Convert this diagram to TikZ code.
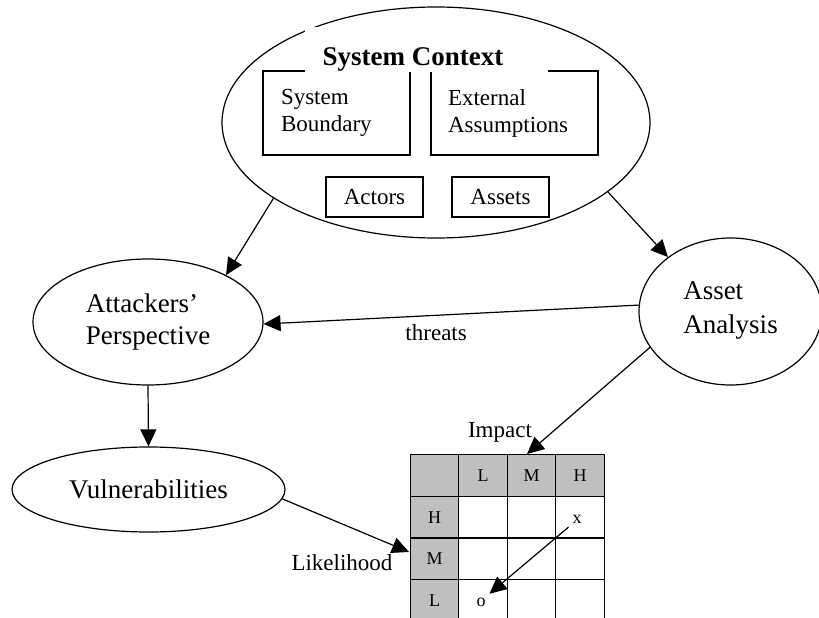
\documentclass[tikz,border=0pt]{standalone}
\usepackage{fontspec}
\setmainfont{Liberation Serif}
\usetikzlibrary{arrows.meta,shapes.geometric}

\begin{document}
\begin{tikzpicture}[x=1pt, y=-1pt, line width=1.2pt,
    bubble/.style={draw, ellipse, inner sep=0pt, align=left, font=\fontsize{27}{32}\selectfont},
    part/.style={draw, inner sep=0pt, font=\fontsize{23}{27}\selectfont},
    cell/.style={draw, minimum width=48.5pt, minimum height=41.7pt, inner sep=0pt, font=\fontsize{18}{20}\selectfont},
    hdr/.style={cell, fill=black!25},
    tag/.style={font=\fontsize{23}{26}\selectfont, inner sep=0pt},
    arr/.style={-{Triangle[length=17pt, width=16pt]}}]
  \clip (0,0) rectangle (819,618);

  % system context and its parts
  \node[bubble, minimum width=428pt, minimum height=231pt] (context) at (436,122.5) {};
  \node[part, text width=111pt, inner xsep=18pt, minimum height=84pt, align=left] (boundary) at (336.5,113) {System\\Boundary};
  \node[part, text width=133pt, inner xsep=17pt, minimum height=84pt, align=left] (assumptions) at (514.5,113) {External\\Assumptions};
  \node[part, minimum width=97pt, minimum height=40pt] (actors) at (374.5,197) {Actors};
  \node[part, minimum width=97pt, minimum height=40pt] (assets) at (500.5,197) {Assets};
  \fill[white] (305,27) rectangle (548,72);
  \node[font=\bfseries\fontsize{27}{30}\selectfont, anchor=base west, inner sep=0pt] (title) at (322,66) {System Context};

  % analysis steps
  \node[bubble, minimum width=230pt, minimum height=126pt] (attackers) at (148,322) {Attackers'\\Perspective};
  \node[bubble, minimum width=183pt, minimum height=147pt] (asset) at (730.5,311.5) {\raisebox{7pt}{\shortstack[l]{Asset\\[12pt]Analysis}}};
  \node[bubble, minimum width=273pt, minimum height=85pt] (vuln) at (148.5,489.5) {Vulnerabilities};

  % risk matrix
  \node[hdr] (m-0-0) at (434.5,475.5) {};
  \foreach \c/\t in {1/L,2/M,3/H}
    \node[hdr] (m-0-\c) at ({434.5+48.5*\c},475.5) {\t};
  \foreach \r/\t in {1/H,2/M,3/L}
    \node[hdr] (m-\r-0) at (434.5,{475.5+41.7*\r}) {\t};
  \foreach \r in {1,2,3}
    \foreach \c in {1,2,3}
      \node[cell] (m-\r-\c) at ({434.5+48.5*\c},{475.5+41.7*\r}) {};
  \node[font=\fontsize{18}{20}\selectfont] (xmark) at (577,519) {x};
  \node[font=\fontsize{18}{20}\selectfont] (omark) at (481,602) {o};
  \node[tag] (impact) at (500,432) {Impact};
  \node[tag] (likelihood) at (342,563) {Likelihood};
  \coordinate (impactend) at (527,454);
  \coordinate (likelihoodend) at (409,552);

  % connectors
  \draw[arr] (context.205) -- (attackers.31);
  \draw[arr] (context.338) -- (asset.139);
  \draw[arr] (asset.176) -- node[tag, pos=0.54, below=9pt] (threats) {threats} (attackers.359);
  \draw[arr] (attackers.south) -- (vuln.north);
  \draw[arr] (asset.204.5) -- (impactend);
  \draw[arr] (vuln.356.6) -- (likelihoodend);
  \draw[arr] (xmark.south west) -- (omark.north east);
\end{tikzpicture}
\end{document}
